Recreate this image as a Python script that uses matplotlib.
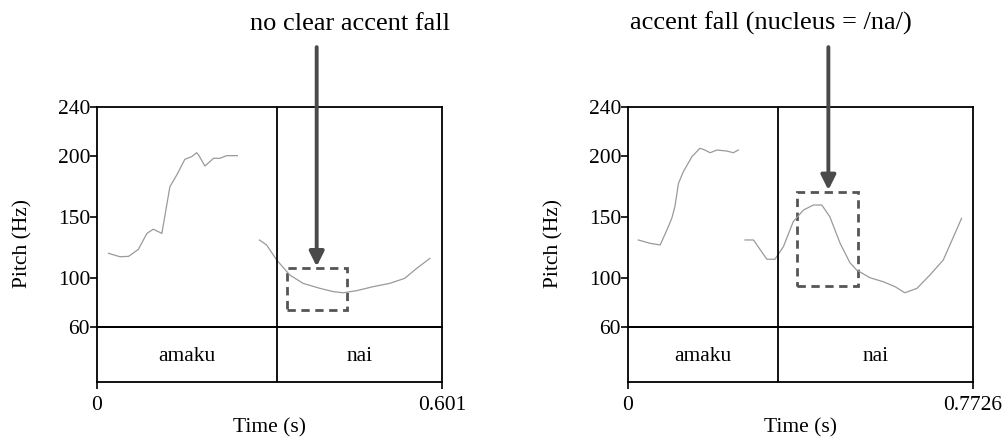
import matplotlib
matplotlib.use("Agg")
import matplotlib.pyplot as plt
from matplotlib.patches import Rectangle

plt.rcParams['font.family'] = ['Liberation Serif', 'DejaVu Serif']

# ---- data ----
# Left panel: "no clear accent fall"
left_dur = 0.601
left_boundary = 0.3136
left_words = ["amaku", "nai"]
left_t1 = [0.020, 0.040, 0.055, 0.072, 0.087, 0.098, 0.113, 0.121, 0.127, 0.139,
           0.153, 0.165, 0.1735, 0.177, 0.188, 0.203, 0.214, 0.226, 0.2445]
left_f1 = [120.3, 117.5, 117.8, 123.5, 136.6, 140.0, 136.6, 158.4, 174.8, 184.4,
           197.2, 199.4, 202.6, 200.7, 191.7, 198.0, 198.0, 200.2, 200.2]
left_t2 = [0.283, 0.2955, 0.313, 0.336, 0.359, 0.3885, 0.412, 0.429, 0.452, 0.481,
           0.510, 0.536, 0.557, 0.580]
left_f2 = [131.2, 127.1, 114.8, 102.5, 95.7, 91.6, 88.9, 88.0, 89.7, 93.0,
           95.7, 99.8, 108.0, 116.2]

# Right panel: "accent fall (nucleus = /na/)"
right_dur = 0.7726
right_boundary = 0.336
right_words = ["amaku", "nai"]
right_t1 = [0.023, 0.049, 0.072, 0.087, 0.098, 0.105, 0.113, 0.124, 0.143, 0.161,
            0.169, 0.184, 0.199, 0.221, 0.236, 0.247]
right_f1 = [131.2, 128.5, 127.1, 139.3, 148.9, 158.4, 177.5, 187.1, 199.3, 206.2,
            205.3, 202.6, 204.8, 204.0, 202.6, 204.8]
right_t2 = [0.262, 0.281, 0.311, 0.329, 0.348, 0.370, 0.393, 0.415, 0.434, 0.452,
            0.475, 0.497, 0.512, 0.542, 0.572, 0.598, 0.620, 0.647, 0.676, 0.706,
            0.729, 0.747]
right_f2 = [131.2, 131.2, 115.4, 115.4, 125.7, 146.2, 155.7, 159.8, 159.8, 150.2,
            128.5, 112.6, 106.6, 100.3, 97.0, 93.0, 88.0, 91.6, 102.5, 114.8,
            133.9, 148.9]

yticks = [60, 100, 150, 200, 240]

panels = [
    dict(dur=left_dur, bnd=left_boundary, words=left_words,
         segs=[(left_t1, left_f1), (left_t2, left_f2)],
         dur_label="0.601", note="no clear accent fall",
         box=(0.3305, 0.436, 74, 108), arrow_t=0.3827, tip=109.5,
         left_px=97, text_px=(250, 30)),
    dict(dur=right_dur, bnd=right_boundary, words=right_words,
         segs=[(right_t1, right_f1), (right_t2, right_f2)],
         dur_label="0.7726", note="accent fall (nucleus = /na/)",
         box=(0.379, 0.516, 93.5, 170.7), arrow_t=0.4487, tip=172,
         left_px=628, text_px=(630, 30)),
]

W, H = 1005, 437
fig = plt.figure(figsize=(W / 100, H / 100), dpi=100)

fs_tick = 15.5
fs_note = 19
fs_lab = 15.5
for p in panels:
    lx = p["left_px"]
    axt = fig.add_axes([lx / W, (H - 382) / H, 345 / W, 55 / H])
    axp = fig.add_axes([lx / W, (H - 327) / H, 345 / W, 220 / H])
    axp.patch.set_visible(False)
    axt.patch.set_visible(False)
    for t, f in p["segs"]:
        axp.plot(t, f, color="#9a9a9a", lw=0.9)
    axp.set_xlim(0, p["dur"])
    axp.set_ylim(60, 240)
    axp.set_yticks(yticks)
    axp.set_yticklabels([str(v) for v in yticks], fontsize=fs_tick)
    axp.tick_params(axis="y", direction="out", length=5, width=1.2, pad=0)
    axp.set_xticks([])
    axp.axvline(p["bnd"], color="black", lw=1.3)
    for s in axp.spines.values():
        s.set_linewidth(1.3)
    fig.text((lx - 74) / W, 1 - 244 / H, "Pitch (Hz)", fontsize=fs_lab,
             rotation=90, ha="center", va="center")

    x0, x1, y0, y1 = p["box"]
    axp.add_patch(Rectangle((x0, y0), x1 - x0, y1 - y0, fill=False,
                            edgecolor="#555555", lw=2, linestyle=(0, (3, 2))))
    axp.annotate("", xy=(p["arrow_t"], p["tip"]), xytext=(p["arrow_t"], 289),
                 xycoords="data", textcoords="data", annotation_clip=False,
                 arrowprops=dict(arrowstyle="-|>", lw=2.8, color="#4a4a4a",
                                 mutation_scale=22, shrinkA=0, shrinkB=0))
    fig.text(p["text_px"][0] / W, 1 - p["text_px"][1] / H, p["note"],
             fontsize=fs_note, ha="left", va="baseline")

    axt.set_xlim(0, p["dur"])
    axt.set_ylim(0, 1)
    axt.set_yticks([])
    axt.set_xticks([0, p["dur"]])
    axt.set_xticklabels(["0", p["dur_label"]], fontsize=fs_tick)
    axt.tick_params(axis="x", direction="out", length=5, width=1.2, pad=5)
    axt.axvline(p["bnd"], color="black", lw=1.3)
    for s in axt.spines.values():
        s.set_linewidth(1.3)
    edges = [0, p["bnd"], p["dur"]]
    for i, w in enumerate(p["words"]):
        axt.text((edges[i] + edges[i + 1]) / 2, 0.47, w, fontsize=fs_lab,
                 ha="center", va="center")
    fig.text((lx + 172) / W, 1 - 428 / H, "Time (s)", fontsize=fs_lab,
             ha="center", va="center")

fig.savefig("out.png", dpi=100)
